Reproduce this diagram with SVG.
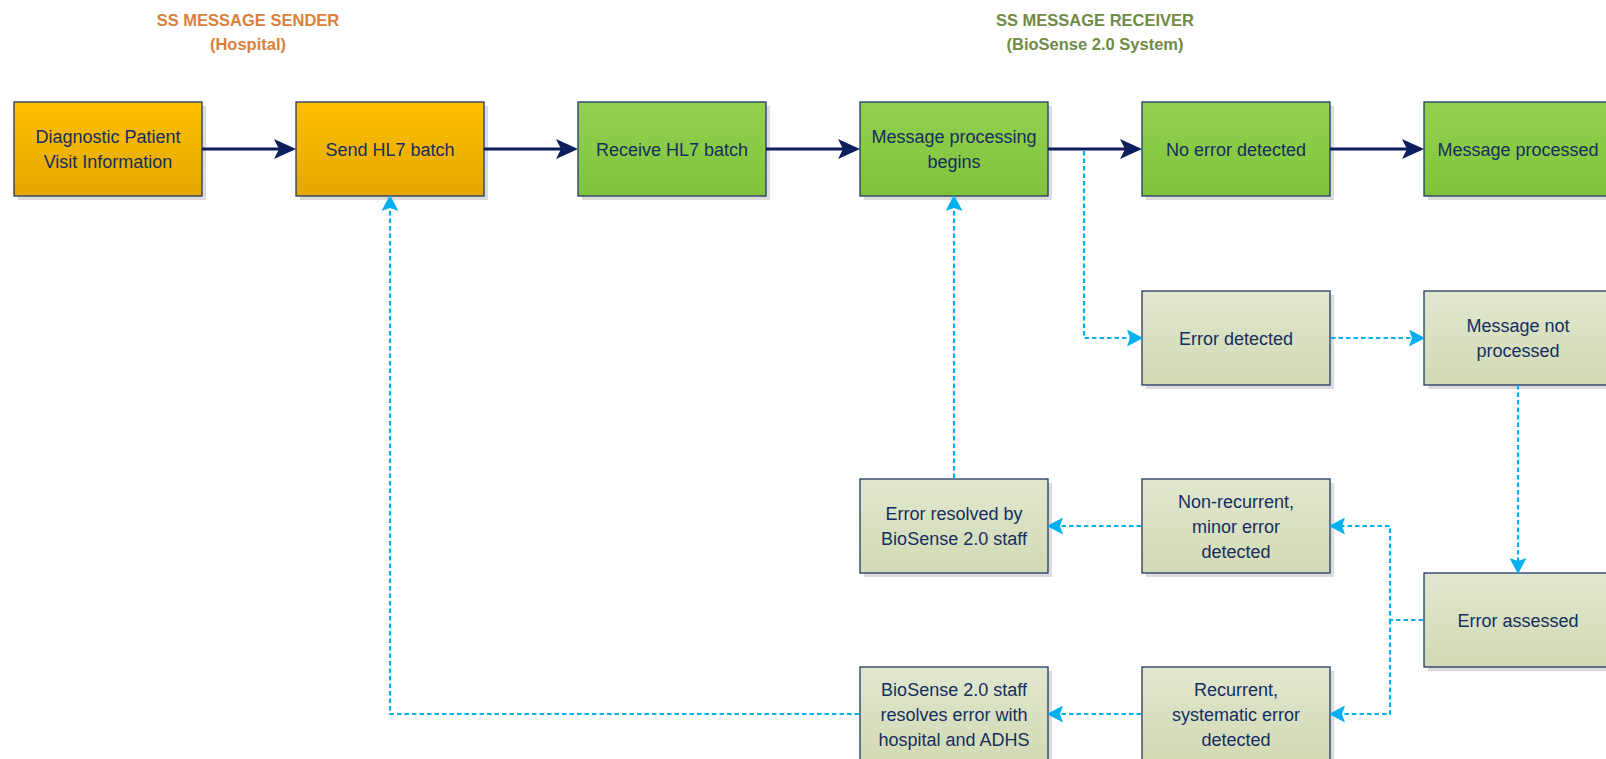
<svg xmlns="http://www.w3.org/2000/svg" width="1606" height="759" viewBox="0 0 1606 759">
<style>
  .title { font-family: "Liberation Sans", Arial, sans-serif; font-weight: bold; font-size: 16.5px; text-anchor: middle; }
  .sender { fill: #D9813A; }
  .receiver { fill: #718A45; }
  .shadow { fill: #DCDCDC; }
  .box { stroke: #1F3864; stroke-width: 1.3; }
  .orange { fill: url(#gOrange); }
  .green { fill: url(#gGreen); }
  .pale { fill: url(#gPale); }
  .lbl { font-family: "Liberation Sans", Arial, sans-serif; font-size: 18px; fill: #162E5E; text-anchor: middle; }
  .solid { fill: none; stroke: #0D1E5C; stroke-width: 3.2; marker-end: url(#aSolid); }
  .dash { fill: none; stroke: #00B0F0; stroke-width: 2.2; stroke-dasharray: 4.5 3; }
  .dashA { marker-end: url(#aDash); }
</style>
<defs>
  <linearGradient id="gOrange" x1="0" y1="0" x2="0" y2="1">
    <stop offset="0" stop-color="#FFC000"/>
    <stop offset="1" stop-color="#E3A700"/>
  </linearGradient>
  <linearGradient id="gGreen" x1="0" y1="0" x2="0" y2="1">
    <stop offset="0" stop-color="#93D150"/>
    <stop offset="1" stop-color="#7FC33B"/>
  </linearGradient>
  <linearGradient id="gPale" x1="0" y1="0" x2="0" y2="1">
    <stop offset="0" stop-color="#E1E7CE"/>
    <stop offset="1" stop-color="#D2DAB5"/>
  </linearGradient>
  <marker id="aSolid" markerUnits="userSpaceOnUse" markerWidth="22" markerHeight="20" viewBox="0 0 22 20" refX="12" refY="10" orient="auto">
    <path d="M0,0 L22,10 L0,20 L5,10 Z" fill="#0D1E5C"/>
  </marker>
  <marker id="aDash" markerUnits="userSpaceOnUse" markerWidth="16" markerHeight="17" viewBox="0 0 16 17" refX="5" refY="8.5" orient="auto">
    <path d="M0,0 L16,8.5 L0,17 L3,8.5 Z" fill="#00B0F0"/>
  </marker>
</defs>
<rect width="1606" height="759" fill="#FFFFFF"/>

<g id="titles">
  <text class="title sender" x="248" y="26">SS MESSAGE SENDER</text>
  <text class="title sender" x="248" y="50">(Hospital)</text>
  <text class="title receiver" x="1095" y="26">SS MESSAGE RECEIVER</text>
  <text class="title receiver" x="1095" y="50">(BioSense 2.0 System)</text>
</g>

<g id="n-diagnostic">
  <rect class="shadow" x="18" y="106" width="188" height="94"/>
  <rect class="box orange" x="14" y="102" width="188" height="94"/>
  <text class="lbl" x="108" y="143">Diagnostic Patient</text>
  <text class="lbl" x="108" y="168">Visit Information</text>
</g>
<g id="n-send">
  <rect class="shadow" x="300" y="106" width="188" height="94"/>
  <rect class="box orange" x="296" y="102" width="188" height="94"/>
  <text class="lbl" x="390" y="155.5">Send HL7 batch</text>
</g>
<g id="n-receive">
  <rect class="shadow" x="582" y="106" width="188" height="94"/>
  <rect class="box green" x="578" y="102" width="188" height="94"/>
  <text class="lbl" x="672" y="155.5">Receive HL7 batch</text>
</g>
<g id="n-begins">
  <rect class="shadow" x="864" y="106" width="188" height="94"/>
  <rect class="box green" x="860" y="102" width="188" height="94"/>
  <text class="lbl" x="954" y="143">Message processing</text>
  <text class="lbl" x="954" y="168">begins</text>
</g>
<g id="n-noerror">
  <rect class="shadow" x="1146" y="106" width="188" height="94"/>
  <rect class="box green" x="1142" y="102" width="188" height="94"/>
  <text class="lbl" x="1236" y="155.5">No error detected</text>
</g>
<g id="n-processed">
  <rect class="shadow" x="1428" y="106" width="188" height="94"/>
  <rect class="box green" x="1424" y="102" width="188" height="94"/>
  <text class="lbl" x="1518" y="155.5">Message processed</text>
</g>
<g id="n-errordetected">
  <rect class="shadow" x="1146" y="295" width="188" height="94"/>
  <rect class="box pale" x="1142" y="291" width="188" height="94"/>
  <text class="lbl" x="1236" y="344.5">Error detected</text>
</g>
<g id="n-notprocessed">
  <rect class="shadow" x="1428" y="295" width="188" height="94"/>
  <rect class="box pale" x="1424" y="291" width="188" height="94"/>
  <text class="lbl" x="1518" y="332">Message not</text>
  <text class="lbl" x="1518" y="357">processed</text>
</g>
<g id="n-resolved">
  <rect class="shadow" x="864" y="483" width="188" height="94"/>
  <rect class="box pale" x="860" y="479" width="188" height="94"/>
  <text class="lbl" x="954" y="520">Error resolved by</text>
  <text class="lbl" x="954" y="545">BioSense 2.0 staff</text>
</g>
<g id="n-nonrecurrent">
  <rect class="shadow" x="1146" y="483" width="188" height="94"/>
  <rect class="box pale" x="1142" y="479" width="188" height="94"/>
  <text class="lbl" x="1236" y="507.5">Non-recurrent,</text>
  <text class="lbl" x="1236" y="532.5">minor error</text>
  <text class="lbl" x="1236" y="557.5">detected</text>
</g>
<g id="n-assessed">
  <rect class="shadow" x="1428" y="577" width="188" height="94"/>
  <rect class="box pale" x="1424" y="573" width="188" height="94"/>
  <text class="lbl" x="1518" y="626.5">Error assessed</text>
</g>
<g id="n-staffresolves">
  <rect class="shadow" x="864" y="671" width="188" height="94"/>
  <rect class="box pale" x="860" y="667" width="188" height="94"/>
  <text class="lbl" x="954" y="695.5">BioSense 2.0 staff</text>
  <text class="lbl" x="954" y="720.5">resolves error with</text>
  <text class="lbl" x="954" y="745.5">hospital and ADHS</text>
</g>
<g id="n-recurrent">
  <rect class="shadow" x="1146" y="671" width="188" height="94"/>
  <rect class="box pale" x="1142" y="667" width="188" height="94"/>
  <text class="lbl" x="1236" y="695.5">Recurrent,</text>
  <text class="lbl" x="1236" y="720.5">systematic error</text>
  <text class="lbl" x="1236" y="745.5">detected</text>
</g>

<g id="connectors">
  <path class="solid" d="M202,149 H286"/>
  <path class="solid" d="M484,149 H568"/>
  <path class="solid" d="M766,149 H850"/>
  <path class="solid" d="M1048,149 H1132"/>
  <path class="solid" d="M1330,149 H1414"/>
  <path class="dash dashA" d="M1084,151 V338 H1132"/>
  <path class="dash dashA" d="M1331,338 H1414"/>
  <path class="dash dashA" d="M1518,385 V563"/>
  <path class="dash dashA" d="M1423,620 H1390 V526 H1340"/>
  <path class="dash dashA" d="M1390,620 V714 H1340"/>
  <path class="dash dashA" d="M1141,526 H1058"/>
  <path class="dash dashA" d="M1141,714 H1058"/>
  <path class="dash dashA" d="M954,478 V206"/>
  <path class="dash dashA" d="M859,714 H390 V206"/>
</g>
</svg>
